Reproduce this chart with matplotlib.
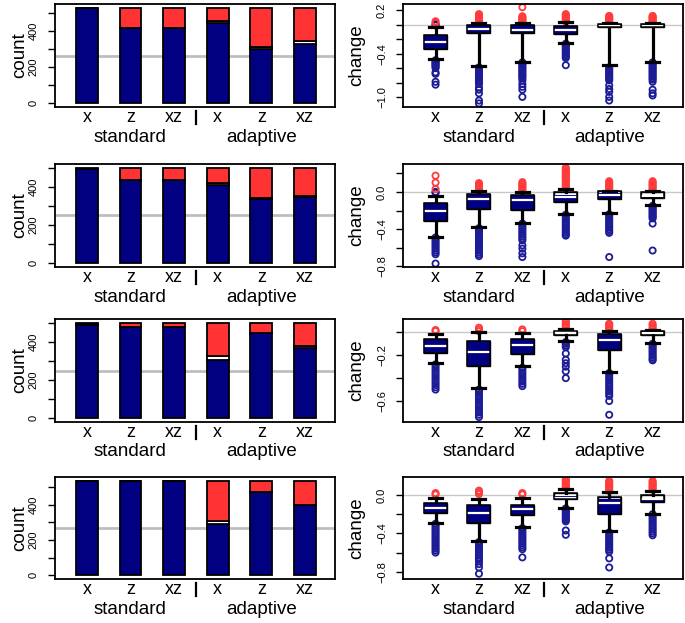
"""Stacked counts (left) and change boxplots (right), 4 scenarios x 6 designs."""
import numpy as np
import matplotlib
matplotlib.use("Agg")
import matplotlib.pyplot as plt

plt.rcParams["font.family"] = ["Liberation Sans", "DejaVu Sans"]

W, H = 685, 623
NAVY = "#000080"
RED = "#FF3333"
BLUE_PT = "#1C1C96"
RED_PT = "#FF3B3B"

DESIGNS = ["x", "z", "xz", "x", "z", "xz"]
GROUP_NAMES = ["standard", "adaptive"]

# --- left panels: counts ---
BAR_TOTAL = [530, 500, 500, 535]
BAR_NAVY = [
    [527, 418, 418, 444, 302, 330],
    [494, 434, 436, 409, 339, 347],
    [488, 478, 479, 305, 447, 366],
    [533, 533, 533, 288, 473, 400],
]
BAR_WHITE = [
    [0, 0, 0, 15, 13, 16],
    [0, 2, 0, 10, 3, 3],
    [4, 0, 0, 22, 2, 14],
    [0, 0, 0, 20, 0, 0],
]

# --- right panels: change boxplots ---
Q3 = [
    [-0.134, 0.0, 0.005, -0.01, 0.014, 0.014],
    [-0.12, -0.02, -0.03, -0.004, 0.007, -0.004],
    [-0.058, -0.078, -0.058, 0.009, -0.015, 0.009],
    [-0.085, -0.109, -0.1, 0.017, -0.017, 0.003],
]
Q1 = [
    [-0.341, -0.11, -0.11, -0.125, -0.03, -0.03],
    [-0.31, -0.18, -0.19, -0.104, -0.075, -0.068],
    [-0.185, -0.296, -0.19, -0.02, -0.157, -0.026],
    [-0.187, -0.29, -0.21, -0.04, -0.194, -0.075],
]
MED = [
    [-0.24, -0.06, -0.07, -0.07, -0.01, -0.01],
    [-0.21, -0.075, -0.09, -0.06, -0.035, -0.045],
    [-0.116, -0.17, -0.107, 0.0, -0.064, -0.005],
    [-0.136, -0.184, -0.143, -0.029, -0.085, -0.045],
]
NAVY_TOP = [
    [-0.134, 0.0, 0.005, -0.03, np.nan, np.nan],
    [-0.12, -0.02, -0.03, -0.035, -0.01, -0.035],
    [-0.058, -0.078, -0.058, np.nan, -0.015, np.nan],
    [-0.085, -0.109, -0.1, -0.014, -0.04, -0.04],
]
WHI = [
    [-0.032, 0.02, 0.02, 0.035, 0.03, 0.03],
    [-0.04, 0.007, 0.0, 0.03, 0.015, 0.015],
    [-0.012, 0.0, -0.006, 0.03, 0.009, 0.023],
    [-0.03, -0.04, -0.034, 0.061, 0.027, 0.044],
]
WLO = [
    [-0.475, -0.577, -0.51, -0.25, -0.56, -0.51],
    [-0.48, -0.38, -0.33, -0.235, -0.23, -0.14],
    [-0.27, -0.49, -0.296, -0.078, -0.345, -0.093],
    [-0.296, -0.483, -0.337, -0.133, -0.38, -0.194],
]
BLUE_OUT = [
    [
        [-0.49, -0.505, -0.52, -0.535, -0.55, -0.565, -0.58, -0.60, -0.66, -0.68, -0.79, -0.83, -0.005, 0.01],
        [-0.59, -0.61, -0.63, -0.65, -0.67, -0.69, -0.71, -0.73, -0.75, -0.77, -0.79, -0.82, -0.87, -0.90, -0.95, -1.05, -1.09],
        [-0.52, -0.54, -0.56, -0.58, -0.60, -0.62, -0.64, -0.66, -0.68, -0.70, -0.72, -0.74, -0.77, -0.82, -0.86, -0.90, -1.0],
        [-0.26, -0.28, -0.30, -0.32, -0.34, -0.36, -0.38, -0.40, -0.42, -0.44, -0.46, -0.56],
        [-0.59, -0.61, -0.63, -0.65, -0.67, -0.69, -0.71, -0.73, -0.75, -0.77, -0.84, -0.89, -0.93, -1.0, -1.05],
        [-0.52, -0.54, -0.56, -0.58, -0.60, -0.62, -0.64, -0.66, -0.68, -0.70, -0.72, -0.74, -0.76, -0.79, -0.90, -0.95, -0.98],
    ],
    [
        [-0.49, -0.51, -0.53, -0.55, -0.57, -0.59, -0.61, -0.63, -0.65, -0.67, -0.77, -0.01, 0.0],
        [-0.39, -0.41, -0.43, -0.45, -0.47, -0.49, -0.51, -0.53, -0.55, -0.57, -0.59, -0.61, -0.63, -0.65, -0.67, -0.69],
        [-0.34, -0.36, -0.38, -0.40, -0.42, -0.44, -0.46, -0.48, -0.50, -0.52, -0.575, -0.61, -0.66, -0.70],
        [-0.245, -0.26, -0.28, -0.30, -0.32, -0.34, -0.36, -0.38, -0.40, -0.42, -0.44, -0.46, -0.47],
        [-0.24, -0.26, -0.28, -0.30, -0.32, -0.34, -0.36, -0.38, -0.40, -0.42, -0.44, -0.70],
        [-0.15, -0.165, -0.18, -0.195, -0.21, -0.225, -0.24, -0.255, -0.27, -0.285, -0.34, -0.63],
    ],
    [
        [-0.28, -0.30, -0.32, -0.34, -0.36, -0.38, -0.40, -0.42, -0.44, -0.46, -0.48, -0.50],
        [-0.50, -0.52, -0.54, -0.56, -0.58, -0.60, -0.62, -0.64, -0.66, -0.68, -0.70, -0.72, -0.74],
        [-0.31, -0.33, -0.35, -0.37, -0.39, -0.41, -0.43, -0.45, -0.47],
        [-0.085, -0.10, -0.115, -0.13, -0.185, -0.24, -0.27, -0.30, -0.34, -0.40],
        [-0.355, -0.375, -0.395, -0.415, -0.435, -0.455, -0.475, -0.495, -0.515, -0.535, -0.555, -0.60, -0.72],
        [-0.10, -0.115, -0.13, -0.145, -0.16, -0.175, -0.19, -0.205, -0.22, -0.235, -0.245],
    ],
    [
        [-0.30, -0.32, -0.34, -0.36, -0.38, -0.40, -0.42, -0.44, -0.46, -0.48, -0.50, -0.52, -0.54, -0.56, -0.58, -0.60],
        [-0.49, -0.51, -0.53, -0.55, -0.57, -0.59, -0.61, -0.63, -0.65, -0.67, -0.69, -0.72, -0.755, -0.82],
        [-0.345, -0.365, -0.385, -0.405, -0.425, -0.445, -0.465, -0.485, -0.505, -0.525, -0.545, -0.565, -0.65],
        [-0.14, -0.155, -0.17, -0.185, -0.20, -0.215, -0.23, -0.245, -0.26, -0.275, -0.37, -0.415],
        [-0.39, -0.41, -0.43, -0.45, -0.47, -0.49, -0.51, -0.53, -0.55, -0.57, -0.59, -0.66, -0.755],
        [-0.20, -0.22, -0.24, -0.26, -0.28, -0.30, -0.32, -0.34, -0.36, -0.38, -0.40, -0.42],
    ],
]
RED_OUT = [
    [
        [0.03, 0.05],
        [0.03, 0.045, 0.06, 0.075, 0.09, 0.105, 0.12, 0.135, 0.15],
        [0.03, 0.045, 0.06, 0.075, 0.09, 0.105, 0.12, 0.245],
        [0.045, 0.06, 0.075, 0.09, 0.105, 0.12, 0.135, 0.15],
        [0.04, 0.055, 0.07, 0.085, 0.10, 0.115, 0.125],
        [0.04, 0.055, 0.07, 0.085, 0.10, 0.115, 0.125],
    ],
    [
        [0.03, 0.10, 0.175],
        [0.02, 0.035, 0.05, 0.065, 0.08, 0.095],
        [0.015, 0.03, 0.045, 0.06, 0.075, 0.09, 0.105],
        [0.04, 0.055, 0.07, 0.085, 0.10, 0.115, 0.13, 0.145, 0.16, 0.175, 0.19, 0.205, 0.22, 0.235, 0.25, 0.26],
        [0.025, 0.04, 0.055, 0.07, 0.085, 0.10, 0.115],
        [0.025, 0.04, 0.055, 0.07, 0.085, 0.10, 0.115],
    ],
    [
        [0.01, 0.02],
        [0.01, 0.025, 0.04],
        [0.01, 0.025],
        [0.04, 0.055, 0.07, 0.085, 0.10],
        [0.02, 0.035, 0.05, 0.065, 0.075],
        [0.03, 0.045, 0.06, 0.075],
    ],
    [
        [0.005, 0.02],
        [0.01, 0.03, 0.045],
        [0.005, 0.02],
        [0.075, 0.09, 0.105, 0.12, 0.135, 0.15, 0.165],
        [0.04, 0.055, 0.07, 0.085, 0.10, 0.115, 0.13, 0.146],
        [0.055, 0.07, 0.085, 0.10, 0.115, 0.13, 0.146],
    ],
]
YLIM_R = [(-1.14, 0.29), (-0.807, 0.30), (-0.783, 0.116), (-0.875, 0.187)]
YTICKS_R = [
    [0.2, 0.0, -0.2, -0.4, -0.6, -0.8, -1.0],
    [0.2, 0.0, -0.2, -0.4, -0.6, -0.8],
    [0.0, -0.2, -0.4, -0.6],
    [0.0, -0.2, -0.4, -0.6, -0.8],
]
YLABELS_R = [
    ["0.2", "", "", "\u22120.4", "", "", "\u22121.0"],
    ["", "0.0", "", "\u22120.4", "", "\u22120.8"],
    ["", "\u22120.2", "", "\u22120.6"],
    ["0.0", "", "\u22120.4", "", "\u22120.8"],
]

ROW_TOP = [4, 164, 319, 477]
ROW_BOT = [107, 267, 422, 579]
LEFT_X = (55, 335)
RIGHT_X = (403, 683)


def add_ax(fig, x0, x1, top, bot):
    return fig.add_axes([x0 / W, 1 - bot / H, (x1 - x0) / W, (bot - top) / H])


def decorate_x(ax, h_px):
    tr = ax.get_xaxis_transform()
    pos = np.arange(len(DESIGNS))
    for i, d in enumerate(DESIGNS):
        ax.annotate(d, (pos[i], 0), xycoords=tr, xytext=(0, -15 * 0.72),
                    textcoords="offset points", ha="center", va="baseline", fontsize=13)
    for g, c in zip(GROUP_NAMES, [1, 4]):
        ax.annotate(g, (c, 0), xycoords=tr, xytext=(0, -34.5 * 0.72),
                    textcoords="offset points", ha="center", va="baseline", fontsize=13.5)
    ax.plot([2.5, 2.5], [-4 / h_px, -17 / h_px], transform=tr, color="black",
            lw=1.6, clip_on=False)
    ax.set_xticks([])


def style_frame(ax):
    for s in ax.spines.values():
        s.set_linewidth(1.3)


fig = plt.figure(figsize=(W / 100, H / 100), dpi=100)

for r in range(4):
    h_px = ROW_BOT[r] - ROW_TOP[r]
    pos = np.arange(len(DESIGNS))

    # left: stacked counts
    ax = add_ax(fig, *LEFT_X, ROW_TOP[r], ROW_BOT[r])
    total = BAR_TOTAL[r]
    navy = np.array(BAR_NAVY[r])
    white = np.array(BAR_WHITE[r])
    red = total - navy - white
    ax.axhline(total / 2, color="#BEBEBE", lw=2, zorder=0.5)
    ax.bar(pos, navy, width=0.5, color=NAVY, edgecolor="black", lw=1.3, zorder=2)
    ax.bar(pos, white, bottom=navy, width=0.5, color="white", edgecolor="black", lw=1.3, zorder=2)
    ax.bar(pos, red, bottom=navy + white, width=0.5, color=RED, edgecolor="black", lw=1.3, zorder=2)
    ax.set_xlim(-0.73, 5.69)
    ax.set_ylim(-0.04 * total, 1.04 * total)
    ax.set_yticks([0, 100, 200, 300, 400, 500])
    ax.set_yticklabels(["0", "", "200", "", "400", ""])
    ax.tick_params(axis="y", length=5, width=1, pad=7, labelsize=8, labelrotation=90)
    for lab in ax.get_yticklabels():
        lab.set_va("center")
    ax.set_ylabel("count", fontsize=13.5)
    ax.yaxis.set_label_coords(-0.094, 0.5)
    decorate_x(ax, h_px)
    style_frame(ax)

    # right: change boxplots
    ax = add_ax(fig, *RIGHT_X, ROW_TOP[r], ROW_BOT[r])
    ax.axhline(0, color="#C8C8C8", lw=1, zorder=0.5)
    for i in range(len(DESIGNS)):
        ax.scatter(np.full(len(BLUE_OUT[r][i]), pos[i]), BLUE_OUT[r][i], s=20,
                   facecolors="none", edgecolors=BLUE_PT, linewidths=1.3, zorder=1.5)
        ax.scatter(np.full(len(RED_OUT[r][i]), pos[i]), RED_OUT[r][i], s=20,
                   facecolors="none", edgecolors=RED_PT, linewidths=1.3, zorder=1.5)
    stats = [dict(med=MED[r][i], q1=Q1[r][i], q3=Q3[r][i], whislo=WLO[r][i],
                  whishi=WHI[r][i], fliers=[]) for i in range(len(DESIGNS))]
    ax.bxp(stats, positions=pos, widths=0.53, capwidths=0.3, patch_artist=True,
           showfliers=False,
           boxprops=dict(facecolor="white", edgecolor="black", linewidth=1.0, zorder=2),
           whiskerprops=dict(color="black", linewidth=2.3, zorder=2),
           capprops=dict(color="black", linewidth=2.3, zorder=2),
           medianprops=dict(color="white", linewidth=1.6, zorder=4))
    q1 = np.array(Q1[r])
    q3 = np.array(Q3[r])
    ntop = np.array(NAVY_TOP[r])
    has_navy = ~np.isnan(ntop)
    ax.bar(pos[has_navy], (ntop - q1)[has_navy], bottom=q1[has_navy], width=0.53,
           color=NAVY, edgecolor="none", zorder=3)
    ax.bar(pos, q3 - q1, bottom=q1, width=0.53, fill=False, edgecolor="black",
           lw=1.1, zorder=4.5)
    ax.set_xlim(-0.75, 5.70)
    ax.set_ylim(*YLIM_R[r])
    ax.set_yticks(YTICKS_R[r])
    ax.set_yticklabels(YLABELS_R[r])
    ax.tick_params(axis="y", length=5, width=1, pad=6.5, labelsize=8, labelrotation=90)
    for lab in ax.get_yticklabels():
        lab.set_va("center")
    ax.set_ylabel("change", fontsize=13.5)
    ax.yaxis.set_label_coords(-0.136, 0.5)
    decorate_x(ax, h_px)
    style_frame(ax)

fig.savefig("out.png", dpi=100)
